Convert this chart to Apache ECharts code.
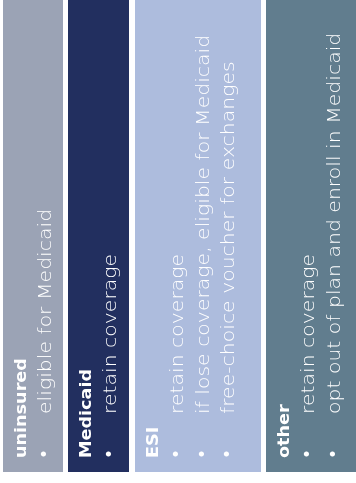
<!DOCTYPE html>
<html>
<head>
<meta charset="utf-8">
<script src="https://cdn.jsdelivr.net/npm/echarts@6/dist/echarts.min.js"></script>
<style>
html,body{margin:0;padding:0;background:#ffffff;}
#chart{width:356px;height:483px;}
</style>
</head>
<body>
<div id="chart"></div>
<script>
// ---- data ----
const categories = ['uninsured', 'Medicaid', 'ESI', 'other'];
const columnWidths = [60, 61, 126, 92];
const bulletTexts = [
  ['eligible for Medicaid'],
  ['retain coverage'],
  ['retain coverage', 'if lose coverage, eligible for Medicaid', 'free-choice voucher for exchanges'],
  ['retain coverage', 'opt out of plan and enroll in Medicaid']
];
const columnColors = ['#9ba3b5', '#222f5f', '#adbcdd', '#617d8e'];

// ---- layout helpers (style, not data) ----
const LEFT = 3, GAP = 5.3;
const starts = [];
(function () {
  let s = LEFT;
  for (let i = 0; i < columnWidths.length; i++) { starts.push(s); s += columnWidths[i] + GAP; }
})();

const chart = echarts.init(document.getElementById('chart'), null, { renderer: 'canvas' });

function renderItem(params, api) {
  const i = params.dataIndex;
  const x0 = starts[i], x1 = starts[i] + api.value(1);
  const pTop = api.coord([x0, 100]);
  const pBot = api.coord([x1, 0]);
  const left = Math.round(pTop[0]);
  const right = Math.round(pBot[0]);
  const top = Math.round(pTop[1]);
  const bottom = Math.round(pBot[1]);
  const children = [{
    type: 'rect',
    shape: { x: left, y: top, width: right - left, height: bottom - top },
    style: { fill: columnColors[i] }
  }];
  const rot = Math.PI / 2;
  children.push({
    type: 'text',
    x: left + 19, y: bottom - 14, rotation: rot, scaleX: 1.1,
    style: {
      text: categories[i], fill: '#ffffff',
      font: 'bold 16px "DejaVu Sans"', align: 'left', verticalAlign: 'middle'
    }
  });
  const lines = bulletTexts[i];
  for (let k = 0; k < lines.length; k++) {
    const cx = left + 43 + k * 25.5;
    children.push({
      type: 'text',
      x: cx, y: bottom - 18, rotation: rot,
      style: {
        text: '\u2022', fill: '#ffffff',
        font: '17px "DejaVu Sans"', align: 'center', verticalAlign: 'middle'
      }
    });
    children.push({
      type: 'text',
      x: cx + 1, y: bottom - 58, rotation: rot, scaleX: 1.2,
      style: {
        text: lines[k], fill: '#ffffff',
        font: '200 17px "DejaVu Sans"', align: 'left', verticalAlign: 'middle'
      }
    });
  }
  return { type: 'group', children: children };
}

chart.setOption({
  animation: false,
  backgroundColor: '#ffffff',
  grid: { left: 0, right: 0, top: 0, bottom: 11 },
  xAxis: { type: 'value', min: 0, max: 356, show: false },
  yAxis: { type: 'value', min: 0, max: 100, show: false },
  series: [{
    type: 'custom',
    renderItem: renderItem,
    clip: false,
    data: categories.map((c, i) => [i, columnWidths[i]])
  }]
});
</script>
</body>
</html>
